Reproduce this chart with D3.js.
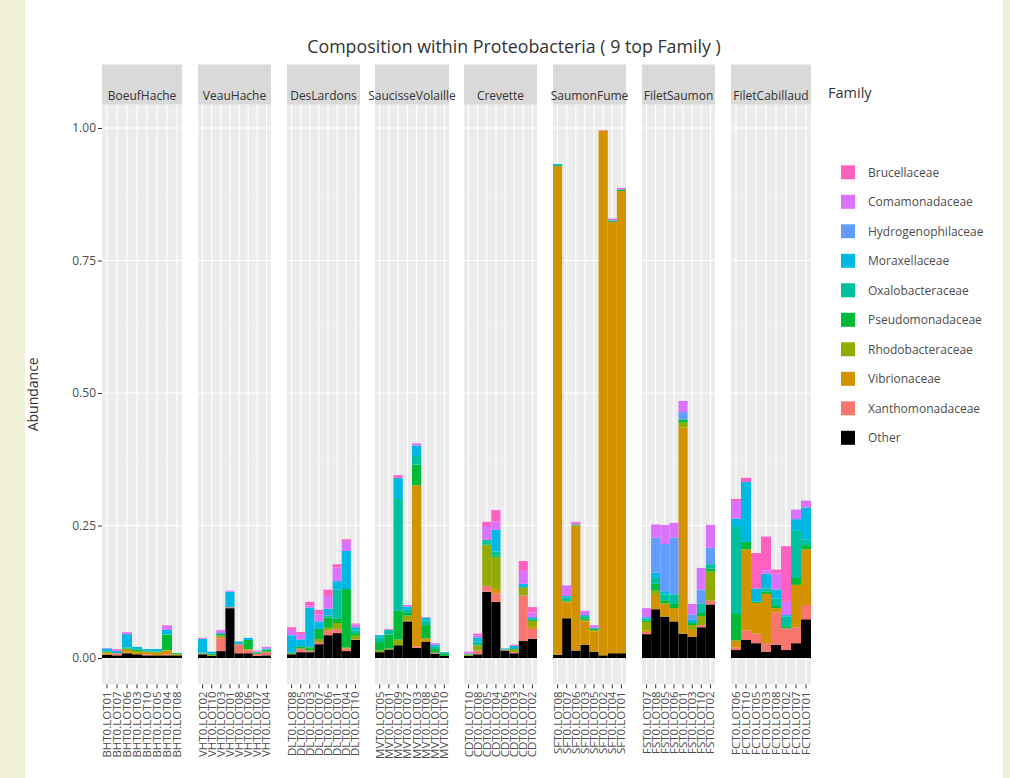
<!DOCTYPE html>
<html>
<head>
<meta charset="utf-8">
<script src="https://cdn.jsdelivr.net/npm/d3@7"></script>
<style>
  html, body { margin: 0; padding: 0; background: #ffffff; }
  svg { display: block; font-family: "Open Sans", "DejaVu Sans", sans-serif; }
</style>
</head>
<body>
<svg id="chart" width="1010" height="778"></svg>
<script>
// ---- data -------------------------------------------------------------
const groups = ["BoeufHache", "VeauHache", "DesLardons", "SaucisseVolaille",
                "Crevette", "SaumonFume", "FiletSaumon", "FiletCabillaud"];

// samples listed panel by panel, eight per panel, in plotting order
const samples = [
  "BHT0.LOT01","BHT0.LOT07","BHT0.LOT06","BHT0.LOT03","BHT0.LOT10","BHT0.LOT05","BHT0.LOT04","BHT0.LOT08",
  "VHT0.LOT02","VHT0.LOT10","VHT0.LOT03","VHT0.LOT01","VHT0.LOT08","VHT0.LOT06","VHT0.LOT07","VHT0.LOT04",
  "DLT0.LOT08","DLT0.LOT05","DLT0.LOT03","DLT0.LOT07","DLT0.LOT06","DLT0.LOT01","DLT0.LOT04","DLT0.LOT10",
  "MVT0.LOT05","MVT0.LOT01","MVT0.LOT09","MVT0.LOT07","MVT0.LOT03","MVT0.LOT08","MVT0.LOT06","MVT0.LOT10",
  "CDT0.LOT10","CDT0.LOT08","CDT0.LOT05","CDT0.LOT04","CDT0.LOT06","CDT0.LOT03","CDT0.LOT07","CDT0.LOT02",
  "SFT0.LOT08","SFT0.LOT07","SFT0.LOT06","SFT0.LOT03","SFT0.LOT05","SFT0.LOT02","SFT0.LOT04","SFT0.LOT01",
  "FST0.LOT07","FST0.LOT08","FST0.LOT05","FST0.LOT06","FST0.LOT01","FST0.LOT03","FST0.LOT10","FST0.LOT02",
  "FCT0.LOT06","FCT0.LOT10","FCT0.LOT05","FCT0.LOT03","FCT0.LOT08","FCT0.LOT02","FCT0.LOT07","FCT0.LOT01"
];

// legend order (top of legend = top of stack)
const families = ["Brucellaceae", "Comamonadaceae", "Hydrogenophilaceae", "Moraxellaceae",
                  "Oxalobacteraceae", "Pseudomonadaceae", "Rhodobacteraceae", "Vibrionaceae",
                  "Xanthomonadaceae", "Other"];
const familyColors = ["#FF61C3", "#DB72FB", "#619CFF", "#00B9E3", "#00C19F",
                      "#00BA38", "#93AA00", "#D39200", "#F8766D", "#000000"];

// relative abundance per family, one value per sample (same order as samples)
const other = [
  .006,.005,.009,.007,.005,.005,.005,.005,
  .007,.004,.013,.094,.009,.009,.004,.005,
  .007,.011,.011,.026,.043,.047,.013,.034,
  .011,.016,.024,.069,.019,.031,.008,.004,
  .004,.007,.125,.106,.014,.009,.032,.036,
  .006,.075,.014,.025,.012,.005,.009,.009,
  .045,.092,.078,.069,.046,.040,.058,.101,
  .015,.034,.028,.012,.025,.015,.028,.073
];
const xanthomonadaceae = [
  0,.003,.001,0,.002,0,.002,0,
  0,0,.024,.002,.017,.006,.004,.006,
  .001,.006,.002,.004,.009,.008,.005,.001,
  0,0,0,0,.003,0,.002,0,
  0,.007,.011,.016,0,.002,.086,.019,
  0,0,0,0,0,0,0,0,
  .004,0,0,0,0,0,.004,.007,
  .005,.018,.018,.016,.061,.041,.030,.027
];
const vibrionaceae = [
  .003,.001,.005,.004,.004,.005,.007,.001,
  .001,0,.003,0,0,.001,0,.001,
  0,.001,0,0,0,0,0,0,
  0,0,0,.003,.304,.006,0,0,
  0,0,0,.008,.002,0,0,.004,
  .922,.030,.236,.044,.038,.990,.814,.872,
  .003,.027,.025,.025,.389,.013,0,0,
  .013,.153,.058,.093,.008,0,.080,.105
];
const rhodobacteraceae = [
  .002,0,.002,.002,.001,.001,.001,.001,
  .001,.002,.002,0,0,.001,0,0,
  0,0,.001,.006,.005,.011,.002,.007,
  .003,.002,.011,.008,0,0,0,0,
  .002,.010,.077,.060,0,.006,.015,.011,
  0,.002,0,.003,.003,0,0,0,
  .016,.008,0,0,.009,.009,.017,.055,
  0,0,0,0,0,0,0,0
];
const pseudomonadaceae = [
  .001,0,.001,.003,.002,.001,.029,.002,
  0,.002,.003,0,0,.017,.002,.003,
  .002,.004,.006,.019,.019,.008,.110,.005,
  .016,.026,.054,.005,.039,.025,.007,.005,
  .001,0,.001,.003,0,0,.001,.003,
  .002,.002,.002,.003,.002,0,.002,.003,
  .003,.013,.006,.008,.006,.004,.006,.006,
  .050,.014,.002,.004,.004,.004,.013,.008
];
const oxalobacteraceae = [
  .001,0,.002,.001,0,.001,.001,0,
  .001,0,0,0,.002,0,.001,.001,
  0,0,.001,0,.004,.055,0,.005,
  .009,.009,.211,.006,.016,.009,.005,0,
  0,.007,.009,.008,0,0,0,0,
  0,.005,0,.004,0,0,.001,0,
  .003,.011,.011,.018,0,0,.018,.008,
  .164,0,0,.006,.014,.018,.089,.011
];
const moraxellaceae = [
  .005,.004,.025,.004,.003,.004,.008,0,
  .026,.004,.002,.029,.003,.004,.001,.002,
  .033,.013,.074,.014,.013,.016,.072,.006,
  .004,0,.040,.006,.020,.005,.003,.002,
  .001,.008,0,.041,.002,.006,.006,.004,
  .002,.003,0,.002,.002,0,0,0,
  .003,.010,.006,0,0,.006,0,0,
  .016,.113,.025,.028,.017,.003,.022,.060
];
const hydrogenophilaceae = [
  0,0,0,0,0,0,0,0,
  0,0,0,0,0,0,0,0,
  0,0,0,0,0,0,0,0,
  0,0,0,0,0,0,0,0,
  0,0,0,0,0,0,0,0,
  0,0,0,0,0,0,0,0,
  0,.066,.089,.107,.014,.010,.026,.031,
  0,0,0,0,0,0,0,0
];
const comamonadaceae = [
  .001,.003,.003,0,0,0,.008,0,
  .001,0,.005,.002,0,0,.002,.003,
  .010,.010,.004,.013,.024,.026,.019,.005,
  0,.001,0,.003,.004,.001,.003,0,
  .003,.004,.026,.016,0,0,.024,.009,
  0,.020,.004,.008,.005,0,.003,.003,
  .017,.025,.036,.028,.021,.020,.041,.043,
  .033,0,0,.006,.030,.025,.018,.013
];
const brucellaceae = [
  0,.001,.001,0,0,0,.001,0,
  .001,0,.001,0,0,0,0,0,
  .005,.004,.007,.009,.012,.006,.003,.002,
  0,.001,.005,0,0,0,0,0,
  .001,.003,.008,.021,0,.002,.019,.010,
  0,0,.001,0,0,.001,0,0,
  0,0,0,0,0,0,0,0,
  .004,.008,.067,.064,.008,.105,0,0
];

const yTicks = [0, 0.25, 0.5, 0.75, 1];
const yMinor = [0.125, 0.375, 0.625, 0.875];

// ---- layout ------------------------------------------------------------
const panelSpans = [[102,182],[198,271],[287,360],[375,449],[464,537],[553,626],[642,715],[731,811]];
const stripTop = 64.5, stripBottom = 104.5;

const svg = d3.select("#chart");

// page margins
svg.append("rect").attr("x", 0).attr("y", 0).attr("width", 1010).attr("height", 778).attr("fill", "#ffffff");
svg.append("rect").attr("x", 0).attr("y", 0).attr("width", 25).attr("height", 778).attr("fill", "#f0f0d6");
svg.append("rect").attr("x", 1003).attr("y", 0).attr("width", 7).attr("height", 778).attr("fill", "#f0f0d6");

const y = d3.scaleLinear().domain([0, 1]).range([658, 128]);
const panelTop = y(1.0447), panelBottom = y(-0.0497);

// table: one row per sample with every family value
const series = {
  Other: other, Xanthomonadaceae: xanthomonadaceae, Vibrionaceae: vibrionaceae,
  Rhodobacteraceae: rhodobacteraceae, Pseudomonadaceae: pseudomonadaceae,
  Oxalobacteraceae: oxalobacteraceae, Moraxellaceae: moraxellaceae,
  Hydrogenophilaceae: hydrogenophilaceae, Comamonadaceae: comamonadaceae,
  Brucellaceae: brucellaceae
};
const rows = samples.map((s, i) => {
  const r = { sample: s, group: groups[Math.floor(i / 8)] };
  families.forEach(f => { r[f] = series[f][i]; });
  return r;
});

const stackOrder = families.slice().reverse();   // Other at the bottom
const color = d3.scaleOrdinal().domain(families).range(familyColors);
const stack = d3.stack().keys(stackOrder);

groups.forEach((g, gi) => {
  const [x0, x1] = panelSpans[gi];
  const data = rows.filter(r => r.group === g);
  const x = d3.scaleBand().domain(data.map(d => d.sample)).range([x0, x1]).padding(0);
  const panel = svg.append("g").attr("class", "panel");

  panel.append("rect")
    .attr("x", x0).attr("y", panelTop)
    .attr("width", x1 - x0).attr("height", panelBottom - panelTop)
    .attr("fill", "#EBEBEB");

  panel.selectAll("line.minor").data(yMinor).join("line")
    .attr("x1", x0).attr("x2", x1)
    .attr("y1", d => y(d)).attr("y2", d => y(d))
    .attr("stroke", "#ffffff").attr("stroke-width", 0.5).attr("opacity", 0.7);
  panel.selectAll("line.major").data(yTicks).join("line")
    .attr("x1", x0).attr("x2", x1)
    .attr("y1", d => y(d)).attr("y2", d => y(d))
    .attr("stroke", "#ffffff").attr("stroke-width", 1.1);
  panel.selectAll("line.vgrid").data(x.domain()).join("line")
    .attr("x1", d => x(d) + x.bandwidth() / 2).attr("x2", d => x(d) + x.bandwidth() / 2)
    .attr("y1", panelTop).attr("y2", panelBottom)
    .attr("stroke", "#ffffff").attr("stroke-width", 1.1);

  const layers = stack(data);
  panel.selectAll("g.layer").data(layers).join("g")
    .attr("fill", d => color(d.key))
    .selectAll("rect").data(d => d).join("rect")
      .attr("x", d => x(d.data.sample))
      .attr("width", x.bandwidth())
      .attr("y", d => y(d[1]))
      .attr("height", d => Math.max(0, y(d[0]) - y(d[1])));

  // strip
  panel.append("rect")
    .attr("x", x0).attr("y", stripTop)
    .attr("width", x1 - x0).attr("height", stripBottom - stripTop)
    .attr("fill", "#D9D9D9");
  panel.append("text")
    .attr("x", (x0 + x1) / 2).attr("y", 100)
    .attr("text-anchor", "middle")
    .attr("font-size", "12px").attr("fill", "#333333")
    .text(g);

  // x axis
  const ax = svg.append("g")
    .attr("transform", `translate(0,${panelBottom})`)
    .call(d3.axisBottom(x).tickSize(4).tickSizeOuter(0).tickPadding(3));
  ax.select(".domain").remove();
  ax.selectAll(".tick line").attr("stroke", "#333333");
  ax.selectAll(".tick text")
    .attr("font-size", "11.5px").attr("fill", "#4D4D4D")
    .attr("font-family", "'Open Sans', sans-serif")
    .attr("text-anchor", "end")
    .attr("transform", "rotate(-90)")
    .attr("x", -7).attr("y", 0).attr("dy", "0.35em");
});

// y axis
const yAxis = svg.append("g")
  .attr("transform", `translate(${panelSpans[0][0]},0)`)
  .call(d3.axisLeft(y).tickValues(yTicks).tickFormat(d3.format(".2f")).tickSize(4).tickPadding(2));
yAxis.select(".domain").remove();
yAxis.selectAll(".tick line").attr("stroke", "#333333");
yAxis.selectAll(".tick text")
  .attr("font-size", "12px").attr("fill", "#4D4D4D")
  .attr("font-family", "'Open Sans', sans-serif");

svg.append("text")
  .attr("transform", `translate(38,${(panelTop + panelBottom) / 2}) rotate(-90)`)
  .attr("text-anchor", "middle")
  .attr("font-size", "14px").attr("fill", "#333333")
  .text("Abundance");

// title
svg.append("text")
  .attr("x", 514).attr("y", 53)
  .attr("text-anchor", "middle")
  .attr("font-size", "17.8px").attr("fill", "#333333")
  .text("Composition within Proteobacteria ( 9 top Family )");

// legend
const legend = svg.append("g").attr("class", "legend");
legend.append("text")
  .attr("x", 828).attr("y", 98)
  .attr("font-size", "14.5px").attr("fill", "#333333")
  .text("Family");
const items = legend.selectAll("g.item").data(families).join("g")
  .attr("transform", (d, i) => `translate(841,${172.3 + i * 29.5})`);
items.append("rect")
  .attr("x", 0).attr("y", -7).attr("width", 14).attr("height", 14)
  .attr("fill", d => color(d));
items.append("text")
  .attr("x", 27).attr("y", 0).attr("dy", "0.35em")
  .attr("font-size", "12px").attr("fill", "#4D4D4D")
  .text(d => d);
</script>
</body>
</html>
